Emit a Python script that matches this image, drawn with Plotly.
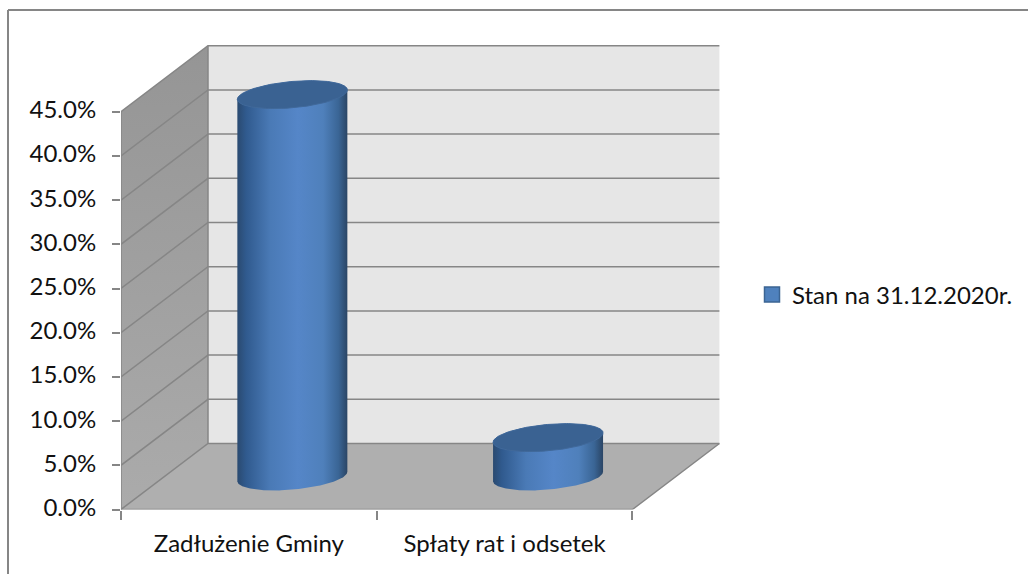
import numpy as np
import plotly.graph_objects as go

categories = ["Zadłużenie Gminy", "Spłaty rat i odsetek"]
values = [43.2, 4.4]
series_name = "Stan na 31.12.2020r."
y_ticks = [0, 5, 10, 15, 20, 25, 30, 35, 40, 45]
y_tick_labels = ["0.0%", "5.0%", "10.0%", "15.0%", "20.0%", "25.0%", "30.0%", "35.0%", "40.0%", "45.0%"]

W, H = 1028, 574
FONT = "Lato"
PX_X, PX_Y = 255.7, 8.84          # pixels per category / per percent
X0, Y0, Y_TOP, = 121, 509.5, 45
DX, DY = 87 / PX_X, 66 / PX_Y     # 3D depth of the box in data units
N = len(categories)
RX, SX, SY = 51.8 / PX_X, 18.5 / PX_X, 14 / PX_Y  # ellipse shape in data units
GRID = "#868686"
TEXT = "#111111"
x_max = N + DX + 0.01
y_max = (Y0 - Y_TOP) / PX_Y

fig = go.Figure()


def poly(xs, ys, **kw):
    fig.add_trace(go.Scatter(x=xs, y=ys, mode="lines", fill="toself", line=dict(width=0),
                             hoverinfo="skip", showlegend=False, **kw))


top = y_ticks[-1]
# walls and floor
poly([DX, N + DX, N + DX, DX, DX], [DY, DY, top + DY, top + DY, DY], fillcolor="#e6e6e6")
poly([0, DX, DX, 0, 0], [0, DY, top + DY, top, 0],
     fillgradient=dict(type="vertical", colorscale=[[0, "#ababab"], [1, "#959595"]]))
poly([0, N, N + DX, DX, 0], [0, 0, DY, DY, 0], fillcolor="#afafaf")

# gridlines on both walls, box edges
gx, gy = [], []
for v in y_ticks:
    gx += [0, DX, N + DX, None]
    gy += [v, v + DY, v + DY, None]
gx += [DX, DX, None, 0, 0, None, 0, N, N + DX]
gy += [DY, top + DY, None, 0, top, None, 0, 0, DY]
fig.add_trace(go.Scatter(x=gx, y=gy, mode="lines", line=dict(color=GRID, width=1.5),
                         hoverinfo="skip", showlegend=False, cliponaxis=False))

# cylinders
t = np.linspace(0, 2 * np.pi, 181)
side_scale = [[0, "#2a4a70"], [0.08, "#305a8e"], [0.3, "#4a7ab6"], [0.55, "#5586c8"],
              [0.78, "#4f80bb"], [0.92, "#3a6595"], [1, "#2a4565"]]
for i, v in enumerate(values):
    cx = i + 0.5 + DX / 2
    cy0 = DY / 2
    ex = RX * np.cos(t) + SX * np.sin(t)
    ey = SY * np.sin(t)
    i_left, i_right = int(np.argmin(ex)), int(np.argmax(ex))
    # lower arc of the base, from the left extreme to the right extreme
    lower = np.arange(i_left, i_right + 1) if i_left < i_right else np.r_[i_left:len(t), 1:i_right + 1]
    # arc of the top from the right extreme back to the left extreme
    upper = np.arange(i_right, i_left + 1)
    bx = np.r_[cx + ex[lower], cx + ex[upper]]
    by = np.r_[cy0 + ey[lower], cy0 + v + ey[upper]]
    poly(list(bx) + [bx[0]], list(by) + [by[0]],
         fillgradient=dict(type="horizontal", colorscale=side_scale))
    fig.add_trace(go.Scatter(x=cx + ex, y=cy0 + v + ey, mode="lines", fill="toself",
                             fillcolor="#3a6292", line=dict(color="#41699a", width=1),
                             hoverinfo="skip", showlegend=False))

# legend entry
fig.add_trace(go.Scatter(x=[None], y=[None], mode="markers", name=series_name,
                         marker=dict(symbol="square", size=15, color="#4f81bd",
                                     line=dict(color="#3b6493", width=1.5))))

fig.update_layout(
    width=W, height=H, autosize=False,
    margin=dict(l=0, r=0, t=0, b=0, autoexpand=False),
    paper_bgcolor="white", plot_bgcolor="white",
    font=dict(family=FONT, size=24, color=TEXT),
    showlegend=True,
    legend=dict(x=752 / W, y=1 - 295 / H, xanchor="left", yanchor="middle",
                bgcolor="rgba(0,0,0,0)", font=dict(family=FONT, size=24, color=TEXT)),
    xaxis=dict(domain=[X0 / W, (X0 + x_max * PX_X) / W], range=[0, x_max],
               tickmode="array", tickvals=[i + 0.5 for i in range(N)], ticktext=categories,
               ticks="", showgrid=False, zeroline=False, showline=False,
               ticklabelstandoff=17,
               minor=dict(tickmode="array", tickvals=list(range(N + 1)), ticks="outside",
                          ticklen=9, tickwidth=1.5, tickcolor=GRID, showgrid=False)),
    yaxis=dict(domain=[1 - Y0 / H, 1 - Y_TOP / H], range=[0, y_max],
               tickmode="array", tickvals=y_ticks, ticktext=y_tick_labels,
               ticks="outside", ticklen=8, tickwidth=1.5, tickcolor=GRID,
               ticklabelstandoff=11, ticklabelshift=-2,
               showgrid=False, zeroline=False, showline=False),
    shapes=[
        dict(type="line", xref="paper", yref="paper", layer="below",
             x0=8 / W, x1=1, y0=1 - 10 / H, y1=1 - 10 / H,
             line=dict(color="#868686", width=2)),
        dict(type="line", xref="paper", yref="paper", layer="below",
             x0=8 / W, x1=8 / W, y0=0, y1=1 - 10 / H,
             line=dict(color="#868686", width=2)),
    ],
)

fig.write_html("out.html", config={"displayModeBar": False},
               post_script="document.body.style.margin='0';document.body.style.overflow='hidden';")
